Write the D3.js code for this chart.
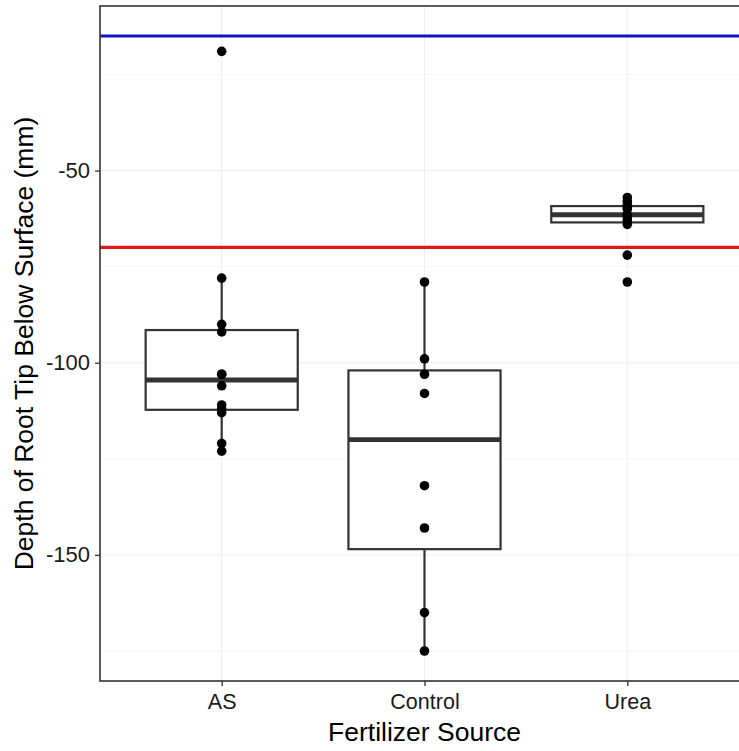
<!DOCTYPE html>
<html>
<head>
<meta charset="utf-8">
<script src="https://cdn.jsdelivr.net/npm/d3@7"></script>
<style>
  html, body { margin: 0; padding: 0; background: #fff; }
  svg { display: block; }
  text { font-family: "Liberation Sans", Arial, sans-serif; }
</style>
</head>
<body>
<svg id="chart" width="739" height="751"></svg>
<script>
// ---- data ----
const categories = ["AS", "Control", "Urea"];
const asValues = [-19, -78, -90, -92, -103, -103, -106, -111, -112, -113, -121, -123];
const controlValues = [-79, -99, -103, -108, -132, -143, -165, -175];
const ureaValues = [-57, -58, -59, -59.5, -60, -61.5, -62, -63, -64, -72, -79];
const refLines = [{ value: -15, color: "#1212c8" }, { value: -70, color: "#e01818" }];
const yMajorTicks = [-50, -100, -150];
const yMinorTicks = [-25, -75, -125, -175];
const xTitle = "Fertilizer Source";
const yTitle = "Depth of Root Tip Below Surface (mm)";

const groups = [
  { name: categories[0], values: asValues },
  { name: categories[1], values: controlValues },
  { name: categories[2], values: ureaValues }
];

// ---- layout ----
const svg = d3.select("#chart");
const panel = { left: 100, top: 6, right: 749, bottom: 681 };

const x = d3.scalePoint().domain(categories).range([panel.left, panel.right]).padding(0.6);
const y = d3.scaleLinear().domain([-182.8, -7.2]).range([panel.bottom, panel.top]);
const boxW = x.step() * 0.75;

// grid
const grid = svg.append("g");
grid.selectAll(".minor").data(yMinorTicks).join("line")
  .attr("x1", panel.left).attr("x2", panel.right)
  .attr("y1", d => y(d)).attr("y2", d => y(d))
  .attr("stroke", "#f6f6f6").attr("stroke-width", 1);
grid.selectAll(".major").data(yMajorTicks).join("line")
  .attr("x1", panel.left).attr("x2", panel.right)
  .attr("y1", d => y(d)).attr("y2", d => y(d))
  .attr("stroke", "#eeeeee").attr("stroke-width", 1);
grid.selectAll(".vmajor").data(categories).join("line")
  .attr("x1", d => x(d)).attr("x2", d => x(d))
  .attr("y1", panel.top).attr("y2", panel.bottom)
  .attr("stroke", "#eeeeee").attr("stroke-width", 1);

// box stats
function stats(vals) {
  const s = vals.slice().sort(d3.ascending);
  const q1 = d3.quantile(s, 0.25), med = d3.quantile(s, 0.5), q3 = d3.quantile(s, 0.75);
  const iqr = q3 - q1;
  const lo = d3.min(s.filter(v => v >= q1 - 1.5 * iqr));
  const hi = d3.max(s.filter(v => v <= q3 + 1.5 * iqr));
  return { q1, med, q3, lo, hi };
}

const boxes = svg.append("g");
groups.forEach(g => {
  const st = stats(g.values);
  const cx = x(g.name);
  const gg = boxes.append("g");
  gg.append("line").attr("x1", cx).attr("x2", cx).attr("y1", y(st.hi)).attr("y2", y(st.q3))
    .attr("stroke", "#333").attr("stroke-width", 2.2);
  gg.append("line").attr("x1", cx).attr("x2", cx).attr("y1", y(st.q1)).attr("y2", y(st.lo))
    .attr("stroke", "#333").attr("stroke-width", 2.2);
  gg.append("rect").attr("x", cx - boxW / 2).attr("width", boxW)
    .attr("y", y(st.q3)).attr("height", y(st.q1) - y(st.q3))
    .attr("fill", "#fff").attr("stroke", "#333").attr("stroke-width", 2.2);
  gg.append("line").attr("x1", cx - boxW / 2).attr("x2", cx + boxW / 2)
    .attr("y1", y(st.med)).attr("y2", y(st.med))
    .attr("stroke", "#333").attr("stroke-width", 4.8);
});

// points
const pts = svg.append("g");
groups.forEach(g => {
  pts.selectAll(null).data(g.values).join("circle")
    .attr("cx", x(g.name)).attr("cy", d => y(d)).attr("r", 4.8).attr("fill", "#000");
});

// reference lines
svg.append("g").selectAll("line").data(refLines).join("line")
  .attr("x1", panel.left).attr("x2", panel.right)
  .attr("y1", d => y(d.value)).attr("y2", d => y(d.value))
  .attr("stroke", d => d.color).attr("stroke-width", 3.2);

// panel border
svg.append("rect").attr("x", panel.left).attr("y", panel.top)
  .attr("width", panel.right - panel.left).attr("height", panel.bottom - panel.top)
  .attr("fill", "none").attr("stroke", "#333").attr("stroke-width", 1.6);

// axes
const yAxis = svg.append("g").attr("transform", `translate(${panel.left},0)`)
  .call(d3.axisLeft(y).tickValues(yMajorTicks).tickSize(5).tickPadding(5).tickFormat(d3.format("d")));
yAxis.select(".domain").remove();
yAxis.selectAll(".tick line").attr("stroke", "#333").attr("stroke-width", 1.3);
yAxis.selectAll(".tick text").attr("font-size", "22px").attr("fill", "#1a1a1a")
  .style("font-family", '"Liberation Sans", Arial, sans-serif').text(d => "-" + Math.abs(d));

const xAxis = svg.append("g").attr("transform", `translate(0,${panel.bottom})`)
  .call(d3.axisBottom(x).tickSize(5).tickPadding(8));
xAxis.select(".domain").remove();
xAxis.selectAll(".tick line").attr("stroke", "#333").attr("stroke-width", 1.3);
xAxis.selectAll(".tick text").attr("font-size", "21.5px").attr("fill", "#1a1a1a")
  .style("font-family", '"Liberation Sans", Arial, sans-serif');

// titles
svg.append("text").attr("x", (panel.left + panel.right) / 2).attr("y", 741)
  .attr("text-anchor", "middle").attr("font-size", "26.5px").attr("fill", "#000").text(xTitle);
svg.append("text")
  .attr("transform", `translate(33,${(panel.top + panel.bottom) / 2}) rotate(-90)`)
  .attr("text-anchor", "middle").attr("font-size", "26.5px").attr("fill", "#000").text(yTitle);
</script>
</body>
</html>
